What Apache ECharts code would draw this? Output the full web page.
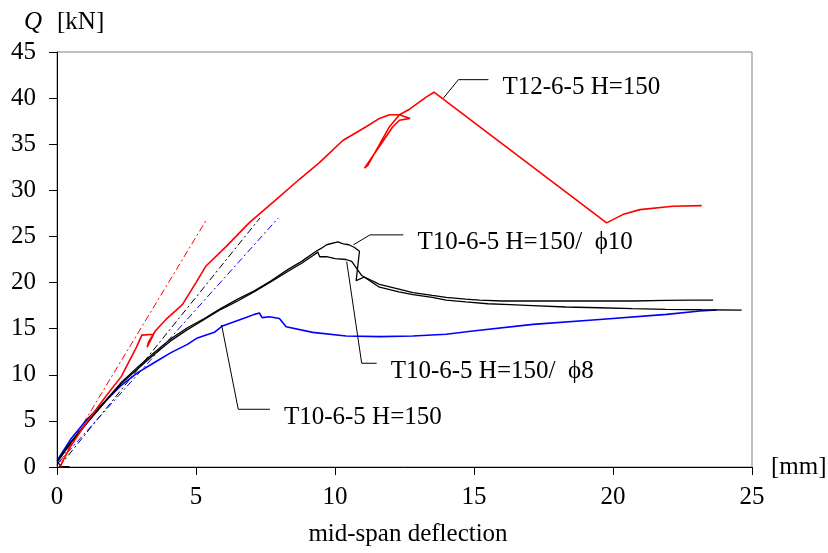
<!DOCTYPE html>
<html>
<head>
<meta charset="utf-8">
<script src="https://cdn.jsdelivr.net/npm/echarts@6/dist/echarts.min.js"></script>
<style>
html,body{margin:0;padding:0;background:#fff;}
#chart{width:828px;height:553px;}
</style>
</head>
<body>
<div id="chart"></div>
<script>
// Load–deflection curves, [deflection mm, load kN]
const t12 = [[0.12,0],[0.2,0.6],[0.5,2.3],[1.08,4.9],[1.69,7.4],[2.31,9.8],[2.86,13.0],[3.05,14.3],[3.48,14.4],
  [3.24,13.0],[3.3,13.6],[3.55,14.8],[3.92,16.0],[4.51,17.6],[5.0,20.0],[5.36,21.8],[6.08,23.9],[6.92,26.5],
  [7.88,29.0],[8.72,31.2],[9.44,33.0],[10.28,35.4],[11.12,36.9],[11.6,37.8],[11.96,38.2],[12.32,38.2],[12.7,37.8],
  [12.32,37.6],[12.08,36.9],[11.06,32.4],[11.18,32.7],[11.96,36.9],[12.32,38.2],[12.68,38.8],[13.28,40.1],
  [13.56,40.64],[19.77,26.47],[20.35,27.37],[20.97,27.91],[22.15,28.27],[23.19,28.34]];

const t10phi10 = [[0.02,0.7],[0.49,2.7],[1.09,4.9],[1.69,7.0],[2.29,9.1],[2.89,10.8],[3.49,12.4],[4.1,13.9],[4.69,15.1],
  [5.3,16.1],[5.9,17.2],[6.5,18.2],[7.1,19.1],[7.7,20.2],[8.3,21.4],[8.8,22.3],[9.32,23.4],[9.5,23.7],[9.7,24.1],
  [10.1,24.4],[10.3,24.2],[10.5,24.1],[10.7,23.8],[10.88,23.4],[10.76,20.2],[11.06,20.6],[11.6,19.8],[12.3,19.3],
  [12.8,18.9],[13.5,18.6],[14.0,18.4],[14.7,18.2],[15.2,18.1],[16.0,18.0],[17.1,18.0],[18.3,18.0],[19.5,18.0],
  [20.7,18.0],[21.9,18.07],[22.8,18.1],[23.6,18.1]];

const t10phi8 = [[0.45,0.05],[0.15,0.05],[0.02,0.55],[0.49,2.6],[1.09,4.8],[1.69,6.9],[2.29,9.0],[2.89,10.6],[3.49,12.2],
  [4.1,13.7],[4.69,14.9],[5.3,16.0],[5.9,17.1],[6.5,18.0],[7.1,19.0],[7.7,20.1],[8.3,21.2],[8.8,22.1],[9.2,22.9],
  [9.38,23.3],[9.45,22.8],[9.7,22.8],[10.0,22.6],[10.4,22.5],[10.6,22.3],[10.95,20.8],[11.1,20.5],[11.6,19.5],
  [12.3,19.0],[12.8,18.7],[13.5,18.4],[14.0,18.1],[14.7,17.9],[15.5,17.7],[16.3,17.6],[17.1,17.5],[18.3,17.35],
  [19.5,17.27],[20.7,17.17],[21.9,17.1],[23.2,17.05],[24.63,17.02]];

const t10 = [[0.0,0.68],[0.49,3.0],[1.09,5.2],[1.69,7.0],[2.29,8.8],[2.89,10.2],[3.49,11.3],[4.1,12.4],[4.69,13.3],
  [5.05,14.0],[5.66,14.6],[5.95,15.3],[6.8,16.2],[7.1,16.55],[7.28,16.7],[7.38,16.2],[7.64,16.3],[8.0,16.1],
  [8.24,15.2],[9.2,14.6],[10.4,14.2],[11.6,14.14],[12.8,14.2],[14.0,14.4],[14.96,14.74],[17.12,15.47],
  [19.52,16.0],[21.93,16.55],[23.13,16.91],[23.73,17.02]];

// Initial stiffness lines (dash-dot)
const tangentT12 = [[0.1,0.5],[5.38,26.83]];
const tangentPhi = [[0.07,0],[7.3,27.0]];
const tangentT10 = [[0.0,0.3],[7.96,27.0]];

// Callout leaders: start near the curve, elbow, end at the label
const leaderT12 = [[13.9,40.0],[14.44,42.0],[15.52,42.0]];
const leaderPhi10 = [[10.66,24.09],[11.26,25.17],[12.46,25.17]];
const leaderPhi8 = [[10.42,22.28],[10.96,11.25],[11.5,11.25]];
const leaderT10 = [[5.92,15.41],[6.52,6.26],[7.66,6.26]];

const labelTexts = ['T12-6-5 H=150', 'T10-6-5 H=150/  \u03d510', 'T10-6-5 H=150/  \u03d58', 'T10-6-5 H=150'];
const leaders = [leaderT12, leaderPhi10, leaderPhi8, leaderT10];

const xTicks = [0, 5, 10, 15, 20, 25];
const yTicks = [0, 5, 10, 15, 20, 25, 30, 35, 40, 45];

const FONT = '"Liberation Serif", "Times New Roman", serif';
const FS = 25;

const chart = echarts.init(document.getElementById('chart'), null, {renderer: 'canvas'});

function curve(data, color, width) {
  return {type: 'line', data: data, showSymbol: false, symbol: 'none', smooth: false, silent: true,
    lineStyle: {color: color, width: width}, z: 3};
}
function dashDot(data, color) {
  return {type: 'line', data: data, showSymbol: false, symbol: 'none', silent: true,
    lineStyle: {color: color, width: 1, type: [7, 3, 2, 3]}, z: 2};
}
function leader(data) {
  return {type: 'line', data: data, showSymbol: false, symbol: 'none', silent: true,
    lineStyle: {color: '#000', width: 1}, z: 4};
}

chart.setOption({
  animation: false,
  backgroundColor: '#fff',
  grid: {left: 57, right: 76, top: 52, bottom: 86, show: true, borderColor: '#808080', borderWidth: 1},
  xAxis: {
    type: 'value', min: xTicks[0], max: xTicks[xTicks.length - 1], interval: 5,
    axisLine: {show: true, lineStyle: {color: '#000', width: 1}},
    axisTick: {show: true, inside: false, length: 8, lineStyle: {color: '#000'}},
    axisLabel: {fontFamily: FONT, fontSize: FS, color: '#000', margin: 18},
    splitLine: {show: false}
  },
  yAxis: {
    type: 'value', min: yTicks[0], max: yTicks[yTicks.length - 1], interval: 5,
    axisLine: {show: true, lineStyle: {color: '#000', width: 1}},
    axisTick: {show: true, inside: false, length: 8, lineStyle: {color: '#000'}},
    axisLabel: {fontFamily: FONT, fontSize: FS, color: '#000', margin: 21},
    splitLine: {show: false}
  },
  series: [
    dashDot(tangentT12, '#ff0000'),
    dashDot(tangentPhi, '#000000'),
    dashDot(tangentT10, '#0000ff'),
    curve(t10, '#0000ff', 1.6),
    curve(t10phi8, '#000000', 1.3),
    curve(t10phi10, '#000000', 1.3),
    curve(t12, '#ff0000', 1.6),
    leader(leaderT12), leader(leaderPhi10), leader(leaderPhi8), leader(leaderT10)
  ]
});

// Callout texts placed just right of each leader's end
const graphics = [];
leaders.forEach(function (ld, i) {
  const p = chart.convertToPixel({gridIndex: 0}, ld[ld.length - 1]);
  graphics.push({type: 'text', x: p[0] + 14, y: p[1] + 8,
    style: {text: labelTexts[i], font: FS + 'px ' + FONT, fill: '#000', textAlign: 'left', textVerticalAlign: 'middle'}});
});
// Axis titles
graphics.push({type: 'text', x: 24, y: 22, style: {text: 'Q', font: 'italic ' + FS + 'px ' + FONT, fill: '#000', textVerticalAlign: 'middle'}});
graphics.push({type: 'text', x: 57, y: 22, style: {text: '[kN]', font: FS + 'px ' + FONT, fill: '#000', textVerticalAlign: 'middle'}});
graphics.push({type: 'text', x: 771, y: 467, style: {text: '[mm]', font: FS + 'px ' + FONT, fill: '#000', textVerticalAlign: 'middle'}});
graphics.push({type: 'text', x: 408, y: 534, style: {text: 'mid-span deflection', font: FS + 'px ' + FONT, fill: '#000', textAlign: 'center', textVerticalAlign: 'middle'}});

chart.setOption({graphic: graphics});
</script>
</body>
</html>
